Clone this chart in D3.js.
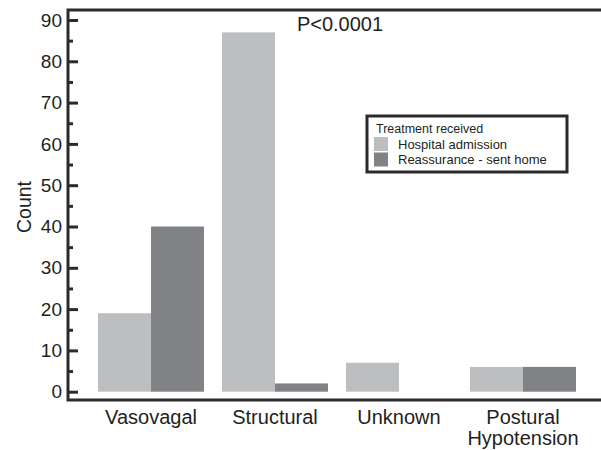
<!DOCTYPE html>
<html>
<head>
<meta charset="utf-8">
<script src="https://cdnjs.cloudflare.com/ajax/libs/d3/7.8.5/d3.min.js"></script>
<style>
  body { margin: 0; background: #fff; }
  text { font-family: "Liberation Sans", Arial, sans-serif; fill: #231f20; }
</style>
</head>
<body>
<div id="chart"></div>
<script>
var categories = [['Vasovagal'], ['Structural'], ['Unknown'], ['Postural', 'Hypotension']]
var seriesNames = ['Hospital admission', 'Reassurance - sent home']
var hospital = [19, 87, 7, 6]
var reassurance = [40, 2, 0, 6]
var yTicks = [0, 10, 20, 30, 40, 50, 60, 70, 80, 90]
var colors = ['#bcbec0', '#808285']

var width = 601, height = 450
var frameLeft = 68, frameTop = 10, frameBottom = 400

var svg = d3.select('#chart').append('svg')
  .attr('width', width)
  .attr('height', height)

var x0 = d3.scaleBand()
  .domain(d3.range(categories.length))
  .range([89, 585])
  .paddingInner(0.145)
  .paddingOuter(0.0725)

var x1 = d3.scaleBand()
  .domain(d3.range(seriesNames.length))
  .range([0, x0.bandwidth()])

var y = d3.scaleLinear()
  .domain([0, 90])
  .range([391.7, 20])

var data = categories.map(function (c, i) {
  return [hospital[i], reassurance[i]]
})

// bars
var groups = svg.selectAll('.group')
  .data(data)
  .enter().append('g')
  .attr('class', 'group')
  .attr('transform', function (d, i) { return 'translate(' + x0(i) + ',0)' })

groups.selectAll('rect')
  .data(function (d) { return d })
  .enter().append('rect')
  .attr('x', function (d, j) { return x1(j) })
  .attr('width', x1.bandwidth())
  .attr('y', function (d) { return y(d) })
  .attr('height', function (d) { return y(0) - y(d) })
  .attr('fill', function (d, j) { return colors[j] })

// frame: left, top, bottom
svg.append('path')
  .attr('d', 'M' + width + ',' + frameTop + 'H' + frameLeft + 'V' + frameBottom + 'H' + width)
  .attr('fill', 'none')
  .attr('stroke', '#2b2b2b')
  .attr('stroke-width', 3)

// y axis ticks drawn inward
var yAxis = d3.axisRight(y)
  .tickValues(yTicks)
  .tickSize(10)
  .tickFormat('')
var yAxisG = svg.append('g')
  .attr('transform', 'translate(' + frameLeft + ',0)')
  .call(yAxis)
yAxisG.select('.domain').remove()
yAxisG.selectAll('line').attr('stroke', '#2b2b2b').attr('stroke-width', 3)

var minor = d3.axisRight(y)
  .tickValues(yTicks.slice(0, -1).map(function (v) { return v + 5 }))
  .tickSize(5)
  .tickFormat('')
var minorG = svg.append('g')
  .attr('transform', 'translate(' + frameLeft + ',0)')
  .call(minor)
minorG.select('.domain').remove()
minorG.selectAll('line').attr('stroke', '#2b2b2b').attr('stroke-width', 3)

svg.selectAll('.ylab')
  .data(yTicks)
  .enter().append('text')
  .attr('class', 'ylab')
  .attr('x', 62)
  .attr('y', function (d) { return y(d) })
  .attr('dy', '0.35em')
  .attr('text-anchor', 'end')
  .style('font-size', '19px')
  .text(function (d) { return d })

svg.append('text')
  .attr('transform', 'translate(31,207) rotate(-90)')
  .attr('text-anchor', 'middle')
  .style('font-size', '19.5px')
  .text('Count')

// category labels
svg.selectAll('.xlab')
  .data(categories)
  .enter().append('text')
  .attr('class', 'xlab')
  .attr('x', function (d, i) { return x0(i) + x0.bandwidth() / 2 })
  .attr('y', 424)
  .attr('text-anchor', 'middle')
  .style('font-size', '20px')
  .each(function (d) {
    var t = d3.select(this)
    d.forEach(function (line, k) {
      t.append('tspan')
        .attr('x', t.attr('x'))
        .attr('dy', k === 0 ? 0 : 21)
        .text(line)
    })
  })

svg.append('text')
  .attr('x', 340)
  .attr('y', 31)
  .attr('text-anchor', 'middle')
  .style('font-size', '20px')
  .text('P<0.0001')

// legend
svg.append('rect')
  .attr('x', 367)
  .attr('y', 116)
  .attr('width', 200)
  .attr('height', 56)
  .attr('fill', '#fff')
  .attr('stroke', '#2b2b2b')
  .attr('stroke-width', 3)
svg.append('text')
  .attr('x', 376)
  .attr('y', 133)
  .style('font-size', '12.5px')
  .text('Treatment received')
seriesNames.forEach(function (name, j) {
  svg.append('rect')
    .attr('x', 374)
    .attr('y', 137 + j * 15.5)
    .attr('width', 14)
    .attr('height', 14)
    .attr('fill', colors[j])
  svg.append('text')
    .attr('x', 398)
    .attr('y', 148.5 + j * 15.5)
    .style('font-size', '13px')
    .text(name)
})
</script>
</body>
</html>
